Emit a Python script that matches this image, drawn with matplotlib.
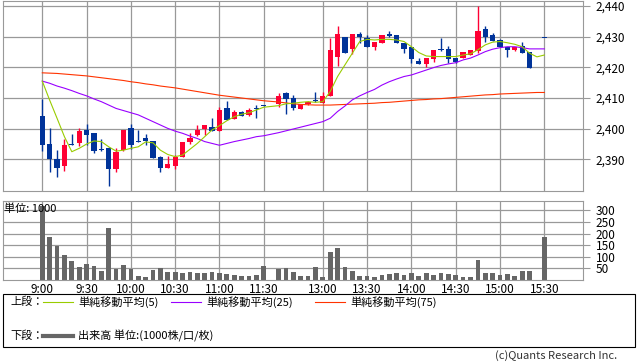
import matplotlib.pyplot as plt
from matplotlib.patches import Rectangle
from matplotlib.lines import Line2D

plt.rcParams['font.family'] = ['Noto Sans CJK JP', 'DejaVu Sans']

# 5-minute slots: 0-30 = 9:00-11:30, 31 = lunch gap, 32-68 = 12:30-15:30
slots = list(range(0, 31)) + list(range(32, 69))

opens = [2404.1, 2395.0, 2390.1, 2387.9, 2395.0, 2395.3, 2399.6, 2398.6, 2393.2, 2393.6,
         2386.9, 2393.0, 2400.2, 2395.9, 2397.0, 2396.0, 2390.8, 2387.3, 2387.9, 2390.8,
         2395.6, 2398.0, 2400.0, 2400.4, 2399.3, 2406.6, 2403.0, 2405.3, 2404.6, 2406.4,
         2407.6,
         2407.9, 2411.6, 2410.0, 2406.5, 2407.9, 2409.1, 2408.5, 2410.5, 2423.5, 2430.0,
         2425.8, 2430.9, 2429.5, 2426.7, 2427.8, 2430.9, 2430.5, 2428.0, 2426.5, 2422.1,
         2421.1, 2422.7, 2425.7, 2425.9, 2422.9, 2422.9, 2424.0, 2425.4, 2432.5, 2430.6,
         2428.9, 2426.7, 2425.6, 2427.0, 2425.1, None, 2429.6]
highs = [2409.7, 2400.2, 2393.0, 2396.8, 2398.3, 2400.2, 2401.6, 2398.6, 2396.7, 2394.1,
         2393.7, 2399.6, 2401.5, 2399.6, 2398.3, 2396.0, 2391.2, 2391.2, 2391.3, 2395.6,
         2398.5, 2401.2, 2401.1, 2403.5, 2407.2, 2409.0, 2406.0, 2405.9, 2406.8, 2407.7,
         2407.7,
         2411.7, 2412.1, 2410.9, 2407.9, 2409.0, 2412.0, 2412.1, 2429.5, 2433.3, 2430.0,
         2431.0, 2431.5, 2430.5, 2428.1, 2430.5, 2431.9, 2430.5, 2427.9, 2426.6, 2422.9,
         2422.9, 2425.7, 2429.6, 2427.0, 2422.9, 2424.9, 2425.6, 2440.0, 2433.5, 2431.1,
         2429.2, 2426.7, 2426.7, 2428.1, 2425.1, None, 2429.6]
lows = [2392.8, 2386.0, 2384.3, 2386.2, 2394.6, 2394.4, 2394.8, 2392.0, 2392.8, 2381.4,
        2386.0, 2392.8, 2393.4, 2395.6, 2394.7, 2390.5, 2386.0, 2387.3, 2386.9, 2390.8,
        2395.0, 2397.5, 2398.0, 2399.2, 2399.3, 2402.8, 2403.0, 2404.1, 2404.1, 2403.6,
        2407.4,
        2407.2, 2404.8, 2406.1, 2406.5, 2407.7, 2408.8, 2408.5, 2410.5, 2420.5, 2424.7,
        2424.3, 2427.8, 2426.7, 2425.7, 2427.8, 2429.8, 2427.8, 2424.7, 2421.3, 2421.0,
        2420.1, 2421.6, 2425.4, 2421.4, 2421.5, 2422.9, 2424.0, 2424.6, 2428.1, 2428.7,
        2426.5, 2423.5, 2425.4, 2424.6, 2419.9, None, 2429.5]
closes = [2394.8, 2390.0, 2387.3, 2394.7, 2394.8, 2399.2, 2398.0, 2392.8, 2393.0, 2386.9,
          2392.5, 2399.6, 2394.8, 2395.8, 2396.0, 2390.5, 2387.3, 2388.5, 2390.7, 2395.6,
          2397.1, 2399.6, 2401.1, 2399.2, 2406.1, 2402.8, 2405.3, 2404.1, 2406.1, 2406.3,
          2407.5,
          2410.7, 2409.8, 2406.9, 2407.9, 2408.8, 2409.0, 2410.7, 2425.6, 2431.0, 2424.7,
          2431.0, 2429.8, 2426.7, 2428.1, 2430.5, 2430.3, 2427.8, 2425.8, 2422.6, 2421.0,
          2422.9, 2425.7, 2425.6, 2422.8, 2421.7, 2424.9, 2425.6, 2431.8, 2429.8, 2428.7,
          2426.5, 2425.6, 2426.7, 2424.6, 2419.9, None, 2429.5]

ma5 = [2415.5, 2409.3, 2403.4, 2397.4, 2392.5, 2393.6, 2395.0, 2396.0, 2395.8, 2394.1,
       2392.7, 2393.0, 2393.6, 2394.1, 2395.7, 2395.4, 2393.0, 2391.6, 2390.9, 2391.4,
       2393.3, 2395.2, 2397.4, 2399.6, 2401.0, 2402.6, 2403.9, 2404.7, 2405.2, 2406.1,
       2407.0,
       2407.5, 2408.1, 2408.3, 2408.6, 2408.8, 2408.6, 2408.8, 2412.1, 2417.0, 2420.8,
       2424.6, 2428.4, 2429.1, 2428.9, 2429.1, 2429.1, 2428.9, 2428.4, 2426.7, 2424.8,
       2423.7, 2423.5, 2423.5, 2423.5, 2423.5, 2424.0, 2424.4, 2425.7, 2427.3, 2428.2,
       2428.4, 2428.0, 2427.5, 2426.7, 2424.6, 2423.4, 2424.0]
ma25 = [2415.5, 2414.8, 2413.9, 2413.2, 2412.4, 2411.5, 2410.7, 2409.7, 2408.8, 2407.7,
        2406.6, 2405.9, 2405.2, 2404.5, 2403.4, 2402.3, 2401.2, 2400.1, 2399.2, 2398.5,
        2397.6, 2396.8, 2395.8, 2395.2, 2394.6, 2395.2, 2395.8, 2396.3, 2396.8, 2397.4,
        2397.7,
        2398.7, 2399.3, 2399.9, 2400.5, 2401.1, 2401.7, 2402.3, 2403.4, 2405.6, 2407.4,
        2409.4, 2410.7, 2411.8, 2412.8, 2414.2, 2415.3, 2416.2, 2417.0, 2417.5, 2418.3,
        2419.1, 2419.9, 2420.6, 2421.1, 2421.5, 2422.4, 2423.0, 2424.0, 2425.1, 2425.9,
        2426.4, 2426.7, 2426.7, 2426.4, 2426.0, 2426.0, 2426.0]
ma75 = [2418.2, 2418.1, 2418.0, 2417.8, 2417.6, 2417.4, 2417.2, 2416.9, 2416.6, 2416.3,
        2416.0, 2415.7, 2415.3, 2415.0, 2414.6, 2414.3, 2413.9, 2413.6, 2413.3, 2412.9,
        2412.5, 2412.1, 2411.7, 2411.3, 2410.9, 2410.6, 2410.3, 2410.0, 2409.7, 2409.4,
        2409.1,
        2408.7, 2408.4, 2408.1, 2407.9, 2407.8, 2407.7, 2407.7, 2407.7, 2407.8, 2407.9,
        2408.0, 2408.1, 2408.2, 2408.3, 2408.5, 2408.6, 2408.8, 2409.0, 2409.2, 2409.4,
        2409.5, 2409.7, 2409.8, 2410.0, 2410.2, 2410.4, 2410.6, 2410.8, 2411.0, 2411.1,
        2411.3, 2411.4, 2411.5, 2411.6, 2411.7, 2411.8, 2411.8]

volume = [317, 186, 148, 108, 80, 54, 71, 62, 38, 224,
          48, 66, 48, 19, 15, 41, 53, 33, 36, 29,
          33, 29, 29, 36, 31, 26, 21, 16, 18, 20,
          62,
          49, 53, 34, 17, 17, 54, 12, 122, 138, 58,
          40, 19, 19, 12, 20, 24, 28, 20, 28, 16,
          28, 20, 28, 24, 20, 12, 12, 87, 28, 28,
          20, 24, 16, 38, 38, 0, 185]

tick_slots = [0, 6, 12, 18, 24, 30, 38, 44, 50, 56, 62, 68]
tick_labels = ["9:00", "9:30", "10:00", "10:30", "11:00", "11:30",
               "13:00", "13:30", "14:00", "14:30", "15:00", "15:30"]
price_ticks = [2390, 2400, 2410, 2420, 2430, 2440]
vol_ticks = [50, 100, 150, 200, 250, 300]

UP = "#ff0033"
DOWN = "#003399"
GRID = "#999999"
W, H = 638, 362

fig = plt.figure(figsize=(W / 100, H / 100), dpi=100)
ax = fig.add_axes([3 / W, 1 - 190.7 / H, 580 / W, 189.7 / H])
axv = fig.add_axes([3 / W, 1 - 280 / H, 580 / W, 79 / H])

for a in (ax, axv):
    a.set_axisbelow(True)
    a.grid(color=GRID, lw=0.9)
    for s in a.spines.values():
        s.set_color(GRID)
    a.set_xlim(-5.32, 73.24)
    a.set_xticks(tick_slots)
    a.yaxis.tick_right()
    a.tick_params(axis="y", length=5, color=GRID, pad=4, labelsize=8.5)
    a.tick_params(axis="x", length=0)

# candles
for x, o, h, l, c in zip(slots, opens, highs, lows, closes):
    if o is None:
        continue
    col = UP if c > o else DOWN
    ax.vlines(x, l, h, color=col, lw=1)
    ax.bar(x, max(abs(c - o), 0.35), bottom=min(o, c), width=0.72, color=col, lw=0)

ax.plot(slots, ma75, color="#ff3300", lw=0.8)
ax.plot(slots, ma25, color="#9900ff", lw=0.8)
ax.plot(slots, ma5, color="#99cc00", lw=0.8)

ax.set_ylim(2379.8, 2441.6)
ax.set_yticks(price_ticks)
ax.set_yticklabels([f"{v:,}" for v in price_ticks])
ax.set_xticklabels([])

axv.bar(slots, volume, width=0.64, color="#666666", lw=0)
axv.set_ylim(0, 340)
axv.set_yticks(vol_ticks)
axv.set_xticklabels(tick_labels, fontsize=8.5)
axv.tick_params(axis="x", pad=2)
fig.text(4 / W, 1 - 209 / H, "単位: 1000", fontsize=8, va="center")

# legend box
fig.patches.append(Rectangle((3 / W, 1 - 347 / H), 632 / W, 53 / H, transform=fig.transFigure,
                             fill=False, ec="black", lw=0.8))
y1 = 1 - 302 / H
y2 = 1 - 336 / H
fig.text(10 / W, y1, "上段：", fontsize=8, va="center")
for x0, col, lab in [(43, "#99cc00", "単純移動平均(5)"),
                     (171, "#9900ff", "単純移動平均(25)"),
                     (315, "#ff3300", "単純移動平均(75)")]:
    fig.lines.append(Line2D([x0 / W, (x0 + 30) / W], [y1, y1], transform=fig.transFigure,
                            color=col, lw=0.8))
    fig.text((x0 + 35) / W, y1, lab, fontsize=8, va="center")
fig.text(10 / W, y2, "下段：", fontsize=8, va="center")
fig.lines.append(Line2D([43 / W, 73 / W], [y2, y2], transform=fig.transFigure,
                        color="#666666", lw=3))
fig.text(78 / W, y2, "出来高 単位:(1000株/口/枚)", fontsize=8, va="center")

fig.text(617 / W, 1 - 356 / H, "(c)Quants Research Inc.", fontsize=8, ha="right",
         va="center", color="#333333")

fig.savefig("out.png", dpi=100)
